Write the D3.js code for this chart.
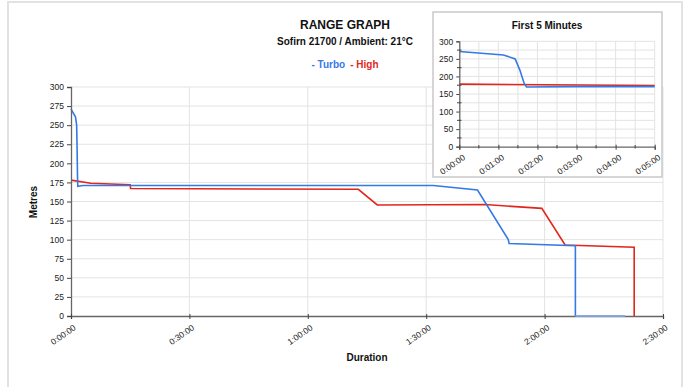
<!DOCTYPE html>
<html><head><meta charset="utf-8">
<script src="https://cdn.jsdelivr.net/npm/d3@7"></script>
<style>body{margin:0;background:#fff;} svg{display:block;font-family:"Liberation Sans",Arial,sans-serif;}</style>
</head><body><svg id="c" width="690" height="387"></svg>
<script>
// Data: time in minutes, range in metres
const turboTime  = [0, 1.13, 1.43, 1.55, 1.66, 1.72, 3, 91.8, 103, 110.8, 111, 127.8, 127.8, 140.4];
const turboRange = [271, 261, 250, 218, 180, 170, 171, 171, 165, 100, 95, 92, 0, 0];
const highTime   = [0, 5, 15, 15.1, 72.8, 77.6, 104.9, 119.3, 125.2, 142.7, 142.7];
const highRange  = [178, 174, 172, 167, 166, 145.5, 146, 141, 93, 90, 0];
const mainXTicks = [0, 30, 60, 90, 120, 150];
const mainYTicks = [0, 25, 50, 75, 100, 125, 150, 175, 200, 225, 250, 275, 300];
const insetXTicks = [0, 1, 2, 3, 4, 5];
const insetYTicks = [0, 50, 100, 150, 200, 250, 300];
const seriesNames = ["Turbo", "High"];
const colors = {Turbo: "#3479e6", High: "#e2261c"};

const fmt = m => { const h = Math.floor(m/60), mm = Math.floor(m%60), ss = Math.round((m*60)%60);
  return h + ":" + String(mm).padStart(2,"0") + ":" + String(ss).padStart(2,"0"); };

const turbo = turboTime.map((t,i)=>({t, v: turboRange[i]}));
const high = highTime.map((t,i)=>({t, v: highRange[i]}));

const svg = d3.select("#c");
// frame
svg.append("path").attr("d","M8,387 V2 H682 V387").attr("fill","none").attr("stroke","#e2e2e2").attr("stroke-width",2);

// titles
svg.append("text").attr("x",345).attr("y",29).attr("text-anchor","middle").attr("font-size",12).attr("font-weight","bold").attr("fill","#111").text("RANGE GRAPH");
svg.append("text").attr("x",345).attr("y",45).attr("text-anchor","middle").attr("font-size",10).attr("font-weight","bold").attr("fill","#111").text("Sofirn 21700 / Ambient: 21°C");
const leg = svg.append("text").attr("x",345).attr("y",68).attr("text-anchor","middle").attr("font-size",10).attr("font-weight","bold");
leg.append("tspan").attr("fill",colors.Turbo).text("- " + seriesNames[0]);
leg.append("tspan").attr("dx",5).attr("fill",colors.High).text("- " + seriesNames[1]);

// main chart
const x = d3.scaleLinear().domain([0,150]).range([71,663]);
const y = d3.scaleLinear().domain([0,300]).range([316,87]);
const g = svg.append("g");
g.append("g").selectAll("line").data(mainYTicks.filter(d=>d>0)).join("line")
  .attr("x1",71).attr("x2",663).attr("y1",d=>y(d)).attr("y2",d=>y(d)).attr("stroke","#e3e3e3");
g.append("g").selectAll("line").data(mainXTicks.filter(d=>d>0)).join("line")
  .attr("x1",d=>x(d)).attr("x2",d=>x(d)).attr("y1",87).attr("y2",316).attr("stroke","#e3e3e3");

const line = (xs,ys)=>d3.line().x(d=>xs(d.t)).y(d=>ys(d.v));
g.append("path").datum(high).attr("d",line(x,y)).attr("fill","none").attr("stroke",colors.High).attr("stroke-width",1.6);
g.append("path").datum(turbo).attr("d",line(x,y)).attr("fill","none").attr("stroke",colors.Turbo).attr("stroke-width",1.6);

const yAx = g.append("g").attr("transform","translate(71,0)").call(d3.axisLeft(y).tickValues(mainYTicks).tickSize(4).tickPadding(3));
const xAx = g.append("g").attr("transform","translate(0,316)").call(d3.axisBottom(x).tickValues(mainXTicks).tickSize(3).tickFormat(fmt));
[yAx,xAx].forEach(a=>{a.select(".domain").attr("stroke","#666").attr("stroke-width",1.3);a.selectAll(".tick line").attr("stroke","#444");a.selectAll("text").attr("font-size",8.5).attr("fill","#222").attr("font-family","Liberation Sans, Arial, sans-serif");});
xAx.selectAll(".tick line").attr("y1",-2);
xAx.selectAll("text").attr("text-anchor","end").attr("dy",0).attr("y",0)
  .attr("transform","translate(5,13) rotate(-35)");
// turbo zero tail over axis
g.append("path").datum(turbo.slice(-2)).attr("d",line(x,y)).attr("fill","none").attr("stroke","#8db4f5").attr("stroke-width",1.6);

svg.append("text").attr("transform","translate(37,202) rotate(-90)").attr("text-anchor","middle").attr("font-size",10).attr("font-weight","bold").attr("fill","#111").text("Metres");
svg.append("text").attr("x",367).attr("y",361).attr("text-anchor","middle").attr("font-size",10).attr("font-weight","bold").attr("fill","#111").text("Duration");

// inset
const ins = svg.append("g");
ins.append("rect").attr("x",433).attr("y",12).attr("width",229).attr("height",165).attr("fill","#fff").attr("stroke","#c9c9c9").attr("stroke-width",1.5);
ins.append("text").attr("x",547).attr("y",29).attr("text-anchor","middle").attr("font-size",10).attr("font-weight","bold").attr("fill","#111").text("First 5 Minutes");
const xi = d3.scaleLinear().domain([0,5]).range([459.3,654.7]);
const yi = d3.scaleLinear().domain([0,300]).range([146.7,41.3]);
const minorX = d3.range(0.5,5.01,0.5), minorY = d3.range(25,301,25);
ins.append("g").selectAll("line").data(minorY).join("line").attr("x1",459.3).attr("x2",654.7).attr("y1",d=>yi(d)).attr("y2",d=>yi(d)).attr("stroke","#e3e3e3");
ins.append("g").selectAll("line").data(minorX).join("line").attr("x1",d=>xi(d)).attr("x2",d=>xi(d)).attr("y1",41.3).attr("y2",146.7).attr("stroke","#e3e3e3");
const clip = svg.append("clipPath").attr("id","ic").append("rect").attr("x",459.3).attr("y",38).attr("width",195.4).attr("height",110);
const inl = ins.append("g").attr("clip-path","url(#ic)");
inl.append("path").datum(high).attr("d",line(xi,yi)).attr("fill","none").attr("stroke",colors.High).attr("stroke-width",1.6);
inl.append("path").datum(turbo).attr("d",line(xi,yi)).attr("fill","none").attr("stroke",colors.Turbo).attr("stroke-width",1.6);
const yiAx = ins.append("g").attr("transform","translate(459.3,0)").call(d3.axisLeft(yi).tickValues(insetYTicks).tickSize(3).tickPadding(3));
const xiAx = ins.append("g").attr("transform","translate(0,146.7)").call(d3.axisBottom(xi).tickValues(insetXTicks).tickSize(3).tickFormat(fmt));
ins.append("g").selectAll("line").data(minorY.filter(d=>d%50)).join("line").attr("x1",457).attr("x2",461.5).attr("y1",d=>yi(d)).attr("y2",d=>yi(d)).attr("stroke","#444");
ins.append("g").selectAll("line").data(minorX.filter(d=>d%1)).join("line").attr("x1",d=>xi(d)).attr("x2",d=>xi(d)).attr("y1",145).attr("y2",148.5).attr("stroke","#444");
[yiAx,xiAx].forEach(a=>{a.select(".domain").attr("stroke","#666").attr("stroke-width",1.3);a.selectAll(".tick line").attr("stroke","#444");a.selectAll("text").attr("font-size",8.5).attr("fill","#222").attr("font-family","Liberation Sans, Arial, sans-serif");});
xiAx.selectAll(".tick line").attr("y1",-2);
xiAx.selectAll("text").attr("text-anchor","end").attr("dy",0).attr("y",0).attr("transform","translate(6,12) rotate(-35)");
</script></body></html>
